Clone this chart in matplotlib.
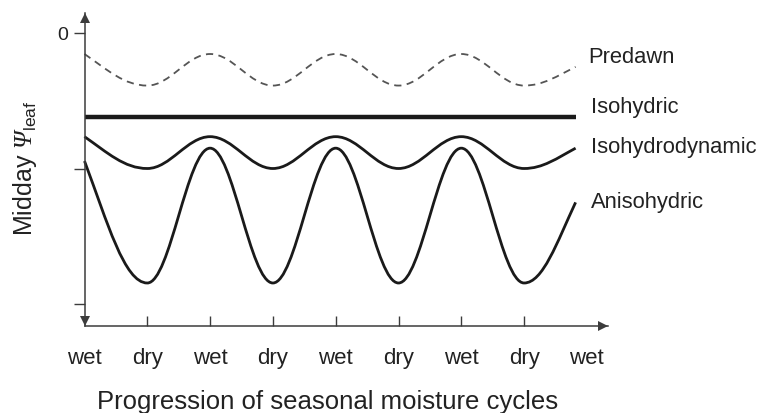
import matplotlib
matplotlib.use("Agg")
import matplotlib.pyplot as plt
from matplotlib.path import Path
from matplotlib.patches import PathPatch
from matplotlib.transforms import offset_copy

plt.rcParams['font.family'] = ['Liberation Sans', 'DejaVu Sans']
plt.rcParams['mathtext.fontset'] = 'custom'
plt.rcParams['mathtext.rm'] = 'Liberation Sans'
plt.rcParams['mathtext.it'] = 'Liberation Sans:italic'
# Psi en cursiva: \mathit fuerza las mayusculas griegas a redonda
plt.rcParams['mathtext.cal'] = 'Liberation Serif:italic'

# Datos
x_labels = ["wet", "dry", "wet", "dry", "wet", "dry", "wet", "dry", "wet"]
x_knots = [0, 1, 2, 3, 4, 5, 6, 7, 7.82]
predawn = [-0.155, -0.388, -0.155, -0.388, -0.155, -0.388, -0.155, -0.388, -0.25]
isohydric = -0.62
isohydrodynamic = [-0.765, -1.0, -0.765, -1.0, -0.765, -1.0, -0.765, -1.0, -0.85]
anisohydric = [-0.945, -1.845, -0.85, -1.845, -0.85, -1.845, -0.85, -1.845, -1.25]
y_ticks = [0, -1, -2]
y_ticklabels = ["0", "", ""]

INK = "#222222"
AXC = "#3c3c3c"


def curva_suave(xs, ys, k=0.364, frac=0.5):
    # bezier por tramos, tangente horizontal en los extremos de cada ciclo
    verts = [(xs[0], ys[0])]
    codes = [Path.MOVETO]
    n = len(xs)
    for i in range(n - 1):
        x0, y0, x1, y1 = xs[i], ys[i], xs[i + 1], ys[i + 1]
        dx = x1 - x0
        h0 = y0 + (y1 - y0) * frac if i == 0 else y0
        h1 = y1 - (y1 - y0) * frac if i == n - 2 else y1
        verts += [(x0 + k * dx, h0), (x1 - k * dx, h1), (x1, y1)]
        codes += [Path.CURVE4] * 3
    return Path(verts, codes)


fig = plt.figure(figsize=(7.61, 4.14), dpi=100)
ax = fig.add_axes([84.5 / 761, 87 / 414, 523.5 / 761, 313 / 414])
ax.set_xlim(0, 523.5 / 62.8)
ax.set_ylim(-293 / 135.5, 20 / 135.5)

for s in ["top", "right"]:
    ax.spines[s].set_visible(False)
for s in ["left", "bottom"]:
    ax.spines[s].set_color(AXC)
    ax.spines[s].set_linewidth(1.1)

# curvas
ax.add_patch(PathPatch(curva_suave(x_knots, predawn), fill=False, edgecolor="#555555",
                       lw=1.3, linestyle=(0, (4, 3)), clip_on=False))
ax.plot([x_knots[0], x_knots[-1]], [isohydric, isohydric], color="#1a1a1a", lw=3.2,
        solid_capstyle="butt", clip_on=False)
ax.add_patch(PathPatch(curva_suave(x_knots, isohydrodynamic), fill=False, edgecolor="#1a1a1a",
                       lw=2.0, clip_on=False))
ax.add_patch(PathPatch(curva_suave(x_knots, anisohydric), fill=False, edgecolor="#1a1a1a",
                       lw=2.0, clip_on=False))

# etiquetas de las curvas
ax.text(8.02, -0.17, "Predawn", ha="left", va="center", fontsize=15.8, color=INK)
ax.text(8.06, -0.546, "Isohydric", ha="left", va="center", fontsize=15.8, color=INK)
ax.text(8.06, -0.84, "Isohydrodynamic", ha="left", va="center", fontsize=15.8, color=INK)
ax.text(8.06, -1.24, "Anisohydric", ha="left", va="center", fontsize=15.8, color=INK)

# ejes
ax.set_xticks(range(len(x_labels)), x_labels)
ax.tick_params(axis="x", direction="in", length=7, width=1, color=AXC, pad=15,
               labelsize=16, labelcolor=INK)
ticks = ax.xaxis.get_major_ticks()
ticks[0].tick1line.set_visible(False)
ticks[-1].tick1line.set_visible(False)
ax.set_yticks(y_ticks, y_ticklabels)
ax.tick_params(axis="y", direction="out", length=8, width=1, color=AXC, pad=4,
               labelsize=14, labelcolor=INK)

# flechas
ax.plot(0, 1, marker="^", ms=7, color=AXC, mew=0, clip_on=False,
        transform=offset_copy(ax.transAxes, fig=fig, y=-5, units="dots"))
ax.plot(0, 0, marker="v", ms=7, color=AXC, mew=0, clip_on=False,
        transform=offset_copy(ax.transAxes, fig=fig, y=5, units="dots"))
ax.plot(1, 0, marker=">", ms=7, color=AXC, mew=0, clip_on=False,
        transform=offset_copy(ax.transAxes, fig=fig, x=-5, units="dots"))

fig.text(328 / 761, 1 - 402 / 414, "Progression of seasonal moisture cycles",
         ha="center", va="center", fontsize=18.5, color=INK)
fig.text(25 / 761, 1 - 168 / 414, r"Midday $\mathcal{Ψ}_{\mathrm{leaf}}$",
         rotation=90, ha="center", va="center", fontsize=18, color=INK)

fig.savefig("out.png", dpi=100)
